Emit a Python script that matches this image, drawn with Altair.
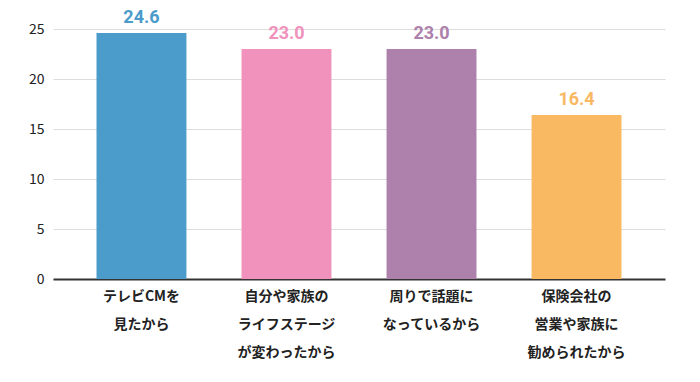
import altair as alt
import pandas as pd

categories = ["テレビCMを\n見たから", "自分や家族の\nライフステージ\nが変わったから", "周りで話題に\nなっているから", "保険会社の\n営業や家族に\n勧められたから"]
values = [24.6, 23.0, 23.0, 16.4]
colors = ["#4B9BCB", "#F092BC", "#AD81AC", "#F9B862"]
labels = ["24.6", "23.0", "23.0", "16.4"]

df = pd.DataFrame({"cat": categories, "value": values, "label": labels})

FONT = "Noto Sans CJK JP"

x = alt.X("cat:N", sort=categories, title=None,
          scale=alt.Scale(paddingInner=0.38, paddingOuter=0.3),
          axis=alt.Axis(labelAngle=0, labelExpr="split(datum.label, '\\n')",
                        labelLineHeight=28, labelFontSize=14, labelFontWeight="bold",
                        labelColor="#222", labelPadding=10, ticks=False,
                        domainColor="#333", domainWidth=2, labelFont=FONT))
y = alt.Y("value:Q", title=None,
          scale=alt.Scale(domain=[0, 25]),
          axis=alt.Axis(values=[0, 5, 10, 15, 20, 25], domain=False, ticks=False,
                        gridColor="#dddddd", labelFontSize=14, labelColor="#222",
                        labelPadding=9, labelFont=FONT))
color = alt.Color("cat:N", sort=categories, scale=alt.Scale(domain=categories, range=colors), legend=None)

base = alt.Chart(df).encode(x=x, y=y, color=color)
bars = base.mark_bar()
text = base.mark_text(dy=-6, baseline="bottom", fontSize=18, fontWeight="bold", font="Roboto").encode(text="label:N")

chart = (bars + text).properties(
    width=612, height=250,
    autosize=alt.AutoSizeParams(type="none"),
    padding={"left": 45, "top": 21, "right": 27, "bottom": 95},
).configure_view(stroke=None)

chart.save("out.html", embed_options={"renderer": "svg", "actions": False})
